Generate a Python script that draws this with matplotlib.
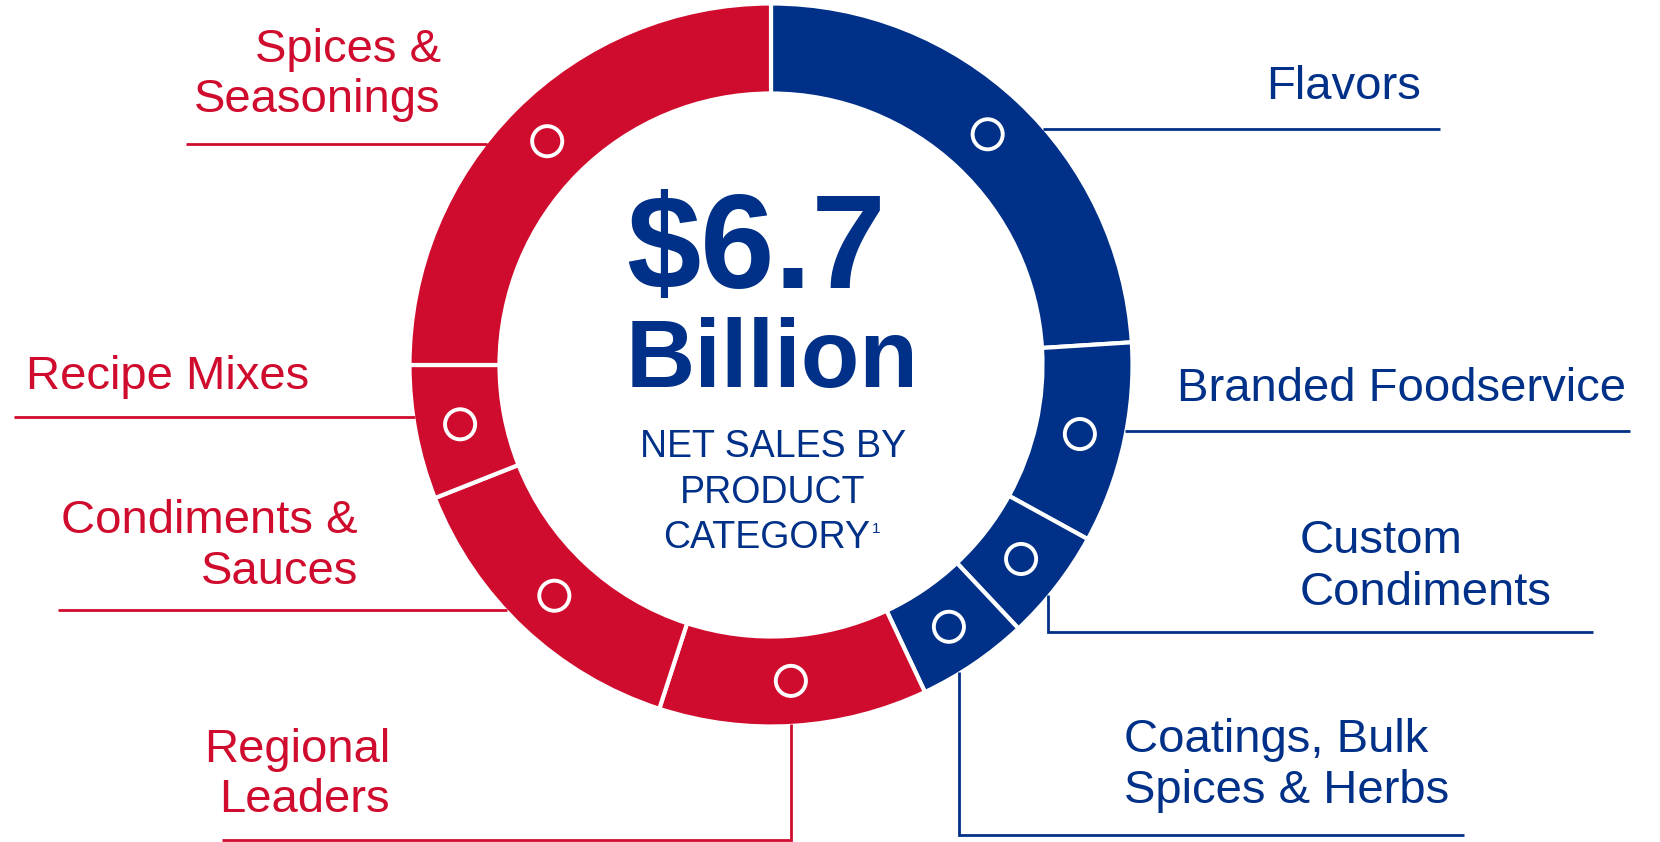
import numpy as np
import matplotlib
matplotlib.use("Agg")
import matplotlib.pyplot as plt

W, H = 1660, 842

BLUE = "#003087"
RED = "#D00C2E"

# net sales share by product category, clockwise from 12 o'clock
categories = ["Flavors", "Branded Foodservice", "Custom\nCondiments",
              "Coatings, Bulk\nSpices & Herbs", "Regional\nLeaders",
              "Condiments &\nSauces", "Recipe Mixes", "Spices &\nSeasonings"]
share = [24, 9, 5, 5, 12, 14, 6, 25]
seg_colors = [BLUE, BLUE, BLUE, BLUE, RED, RED, RED, RED]

total_text = "$6.7"
unit_text = "Billion"
sub_lines = ["NET SALES BY", "PRODUCT", "CATEGORY"]

# ring geometry in pixels (image y measured from the top)
cx, cy = 771, 365
R_out, R_in = 360, 273

# label layout: text x, alignment, baselines, leader (elbow x or None, line y, far end x)
layout = [
    (1266, "left", [99], None, 129, 1440),
    (1177, "left", [401], None, 431, 1630),
    (1300, "left", [553, 605], 1048, 632, 1593),
    (1124, "left", [752, 803], 959, 835, 1464),
    (390, "right", [762, 812], 791, 840, 222),
    (358, "right", [533, 584], None, 610, 58),
    (26, "left", [389], None, 417, 14),
    (441, "right", [62, 112], None, 144, 186),
]

plt.rcParams["font.family"] = ["Liberation Sans", "DejaVu Sans"]

fig = plt.figure(figsize=(W / 100, H / 100), dpi=100)
ax = fig.add_axes([0, 0, 1, 1])

def Y(y):
    return H - y

sep = 3
ax.pie(share, colors=seg_colors, startangle=90, counterclock=False,
       radius=R_out + 1.5, center=(cx, Y(cy)),
       wedgeprops=dict(width=R_out - R_in + 3, edgecolor="white", linewidth=sep))

ax.set_xlim(0, W)
ax.set_ylim(0, H)
ax.set_aspect("equal")
ax.axis("off")

# open circle at the middle of every segment
frac = np.array(share) / np.sum(share)
mid = 90 - 360 * (np.cumsum(frac) - frac / 2)
r_mid = (R_out + R_in) / 2
mx = cx + r_mid * np.cos(np.radians(mid))
my = Y(cy) + r_mid * np.sin(np.radians(mid))
ax.scatter(mx, my, s=470, facecolors="none", edgecolors="white", linewidths=2.8, zorder=5)

# labels + leader lines
for name, col, (tx, ha, bases, ex, ly, xend) in zip(categories, seg_colors, layout):
    for line, b in zip(name.split("\n"), bases):
        ax.text(tx, Y(b), line, ha=ha, va="baseline", fontsize=34, color=col)
    if ex is None:
        dy = abs(ly - cy)
        dx = np.sqrt(R_out ** 2 - dy ** 2)
        x0 = cx + dx if xend > cx else cx - dx
        ax.plot([x0, xend], [Y(ly), Y(ly)], color=col, lw=2, solid_capstyle="butt")
    else:
        y0 = cy + np.sqrt(R_out ** 2 - (ex - cx) ** 2)
        ax.plot([ex, ex, xend], [Y(y0), Y(ly), Y(ly)], color=col, lw=2,
                solid_joinstyle="miter", solid_capstyle="butt")

# centre text
ax.text(756, Y(288), total_text, ha="center", va="baseline", fontsize=96,
        fontweight="bold", color=BLUE)
ax.text(772, Y(387), unit_text, ha="center", va="baseline", fontsize=69,
        fontweight="bold", color=BLUE)
for line, b in zip(sub_lines[:2], [457, 503]):
    ax.text(773, Y(b), line, ha="center", va="baseline", fontsize=27, color=BLUE)
ax.text(870, Y(548), sub_lines[2], ha="right", va="baseline", fontsize=27, color=BLUE)
ax.text(872, Y(533), "1", ha="left", va="baseline", fontsize=11, color=BLUE)

fig.savefig("out.png", dpi=100)
